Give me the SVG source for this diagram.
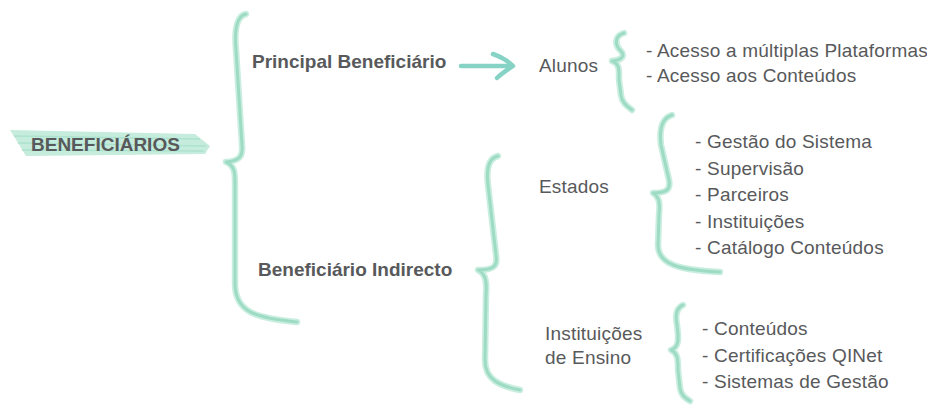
<svg xmlns="http://www.w3.org/2000/svg" width="927" height="405" viewBox="0 0 927 405">
<defs>
<style>
.t{font-family:"Liberation Sans",Arial,sans-serif;font-size:19px;fill:#58595b;letter-spacing:0.2px}
.b{font-weight:bold;letter-spacing:0}
.halo{fill:none;stroke:#c9eee0;stroke-width:6.5;stroke-linecap:round;stroke-linejoin:round}
.core{fill:none;stroke:#9edbc4;stroke-width:3;stroke-linecap:round;stroke-linejoin:round}
.arrow{fill:none;stroke:#86d3c5;stroke-width:4.5;stroke-linecap:round;stroke-linejoin:round}
</style>
</defs>
<g id="connectors">
  <g id="brace-main">
    <path class="halo" d="M246 14 C237 16,234 28,236 50 L242 145 C243 156,240 161,226 162 C236 166,235 175,235 190 L235 285 C236 312,255 318,297 322"/>
    <path class="core" d="M246 14 C237 16,234 28,236 50 L242 145 C243 156,240 161,226 162 C236 166,235 175,235 190 L235 285 C236 312,255 318,297 322"/>
  </g>
  <g id="brace-indirect">
    <path class="halo" d="M498 156 C489 158,486 168,488 185 L496 255 C498 266,494 270,478 270 C486 274,487 282,486 295 L485 360 C485 380,500 386,520 390"/>
    <path class="core" d="M498 156 C489 158,486 168,488 185 L496 255 C498 266,494 270,478 270 C486 274,487 282,486 295 L485 360 C485 380,500 386,520 390"/>
  </g>
  <g id="brace-estados">
    <path class="halo" d="M672 115 C662 118,659 128,661 145 L669 180 C671 190,666 193,653 193 C660 197,660 205,659 215 L658 245 C658 265,680 270,720 272"/>
    <path class="core" d="M672 115 C662 118,659 128,661 145 L669 180 C671 190,666 193,653 193 C660 197,660 205,659 215 L658 245 C658 265,680 270,720 272"/>
  </g>
  <g id="brace-alunos">
    <path class="halo" d="M624 33 C614 36,615 45,620 50 C626 56,622 60,612 61 C620 64,619 70,619 80 L621 95 C622 103,627 106,632 110"/>
    <path class="core" d="M624 33 C614 36,615 45,620 50 C626 56,622 60,612 61 C620 64,619 70,619 80 L621 95 C622 103,627 106,632 110"/>
  </g>
  <g id="brace-ensino">
    <path class="halo" d="M683 305 C676 308,675 315,677 325 C679 340,679 347,671 350 C678 353,678 360,678 370 L680 388 C681 395,685 398,690 401"/>
    <path class="core" d="M683 305 C676 308,675 315,677 325 C679 340,679 347,671 350 C678 353,678 360,678 370 L680 388 C681 395,685 398,690 401"/>
  </g>
  <g id="arrow-principal">
    <path class="arrow" d="M461 66 L511 66"/>
    <path class="arrow" d="M493 54 C502 57,508 61,513 66 C507 70,501 74,497 78"/>
  </g>
</g>
<g id="node-beneficiarios">
  <polygon points="10,130 195,134 210,146 205,154 26,156" fill="#c6ecdd"/>
  <path d="M14 136 L200 139 M18 143 L206 146 M22 150 L204 151" stroke="#ade2ce" stroke-width="1.5" fill="none"/>
  <text class="t b" x="31" y="151">BENEFICIÁRIOS</text>
</g>
<g id="node-principal">
  <text class="t b" x="252" y="68">Principal Beneficiário</text>
</g>
<g id="node-indirecto">
  <text class="t b" x="258" y="276">Beneficiário Indirecto</text>
</g>
<g id="node-alunos">
  <text class="t" x="539" y="72">Alunos</text>
</g>
<g id="node-alunos-items">
  <text class="t" x="646" y="57">- Acesso a múltiplas Plataformas</text>
  <text class="t" x="646" y="82">- Acesso aos Conteúdos</text>
</g>
<g id="node-estados">
  <text class="t" x="539" y="193">Estados</text>
</g>
<g id="node-estados-items">
  <text class="t" x="695" y="148">- Gestão do Sistema</text>
  <text class="t" x="695" y="174.5">- Supervisão</text>
  <text class="t" x="695" y="201">- Parceiros</text>
  <text class="t" x="695" y="227.5">- Instituições</text>
  <text class="t" x="695" y="254">- Catálogo Conteúdos</text>
</g>
<g id="node-ensino">
  <text class="t" x="545" y="340">Instituições</text>
  <text class="t" x="545" y="364">de Ensino</text>
</g>
<g id="node-ensino-items">
  <text class="t" x="702" y="335">- Conteúdos</text>
  <text class="t" x="702" y="362">- Certificações QINet</text>
  <text class="t" x="702" y="388">- Sistemas de Gestão</text>
</g>
</svg>
